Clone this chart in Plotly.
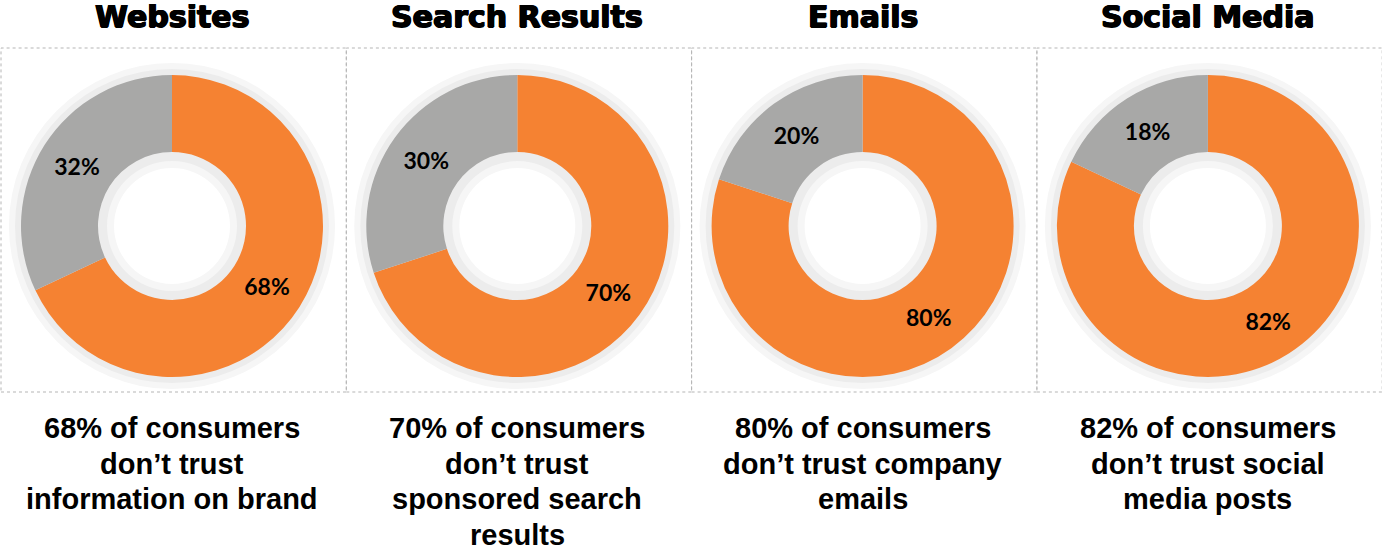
import plotly.graph_objects as go

# ---- data ----
categories = ["Websites", "Search Results", "Emails", "Social Media"]
distrust = [68, 70, 80, 82]
trust = [32, 30, 20, 18]
captions = [
    ["68% of consumers", "don’t trust", "information on brand"],
    ["70% of consumers", "don’t trust", "sponsored search", "results"],
    ["80% of consumers", "don’t trust company", "emails"],
    ["82% of consumers", "don’t trust social", "media posts"],
]

ORANGE = "#f58232"
GRAY = "#a8a8a7"

W, H = 1382, 550
panel_w = 345.3
cy = 226
R = 151
hole_r = 74


def dom(cx, cy, r):
    return dict(x=[(cx - r) / W, (cx + r) / W], y=[1 - (cy + r) / H, 1 - (cy - r) / H])


fig = go.Figure()
shapes = []
annotations = []

for i, cat in enumerate(categories):
    cx = 172 + panel_w * i
    # soft shadow rings
    for r_out, r_in, col in [(163, 58, "#f6f6f6"), (157, 65, "#ececec")]:
        fig.add_trace(go.Pie(
            values=[1], marker=dict(colors=[col], line=dict(width=0)),
            hole=r_in / r_out, domain=dom(cx, cy, r_out), sort=False,
            textinfo="none", hoverinfo="skip", showlegend=False,
        ))
    fig.add_trace(go.Pie(
        labels=["Don't trust", "Trust"],
        values=[distrust[i], trust[i]],
        marker=dict(colors=[ORANGE, GRAY], line=dict(width=0)),
        hole=hole_r / R, domain=dom(cx, cy, R),
        sort=False, direction="clockwise", rotation=0,
        texttemplate="%{value}%", textposition="inside",
        insidetextorientation="horizontal",
        textfont=dict(family="Lato, Open Sans, sans-serif", size=23, color="black", weight="bold"),
        hoverinfo="label+value", showlegend=False,
    ))
    # panel border
    x0 = 1 + panel_w * i
    shapes.append(dict(type="rect", xref="paper", yref="paper",
                       x0=x0 / W, x1=(x0 + panel_w) / W,
                       y0=1 - 392 / H, y1=1 - 48 / H,
                       line=dict(color="#b5b5b5", width=1, dash="dot"),
                       layer="below"))
    # title
    annotations.append(dict(text=cat, x=cx / W, y=1 - 17 / H, xref="paper", yref="paper",
                            xanchor="center", yanchor="middle", showarrow=False,
                            font=dict(family="DejaVu Sans, sans-serif",
                                      size=30, color="black", weight="bold",
                                      shadow="0.8px 0 0 #000, -0.8px 0 0 #000, 0 0.6px 0 #000, 0 -0.4px 0 #000")))
    # caption lines
    for j, line in enumerate(captions[i]):
        annotations.append(dict(text=line, x=cx / W, y=1 - (428 + 35.5 * j) / H,
                                xref="paper", yref="paper",
                                xanchor="center", yanchor="middle", showarrow=False,
                                font=dict(family="Liberation Sans, Arial, sans-serif",
                                          size=29, color="black", weight="bold")))

fig.update_layout(
    width=W, height=H,
    margin=dict(l=0, r=0, t=0, b=0),
    paper_bgcolor="white", plot_bgcolor="white",
    shapes=shapes, annotations=annotations,
    showlegend=False,
)

fig.write_html("out.html")
